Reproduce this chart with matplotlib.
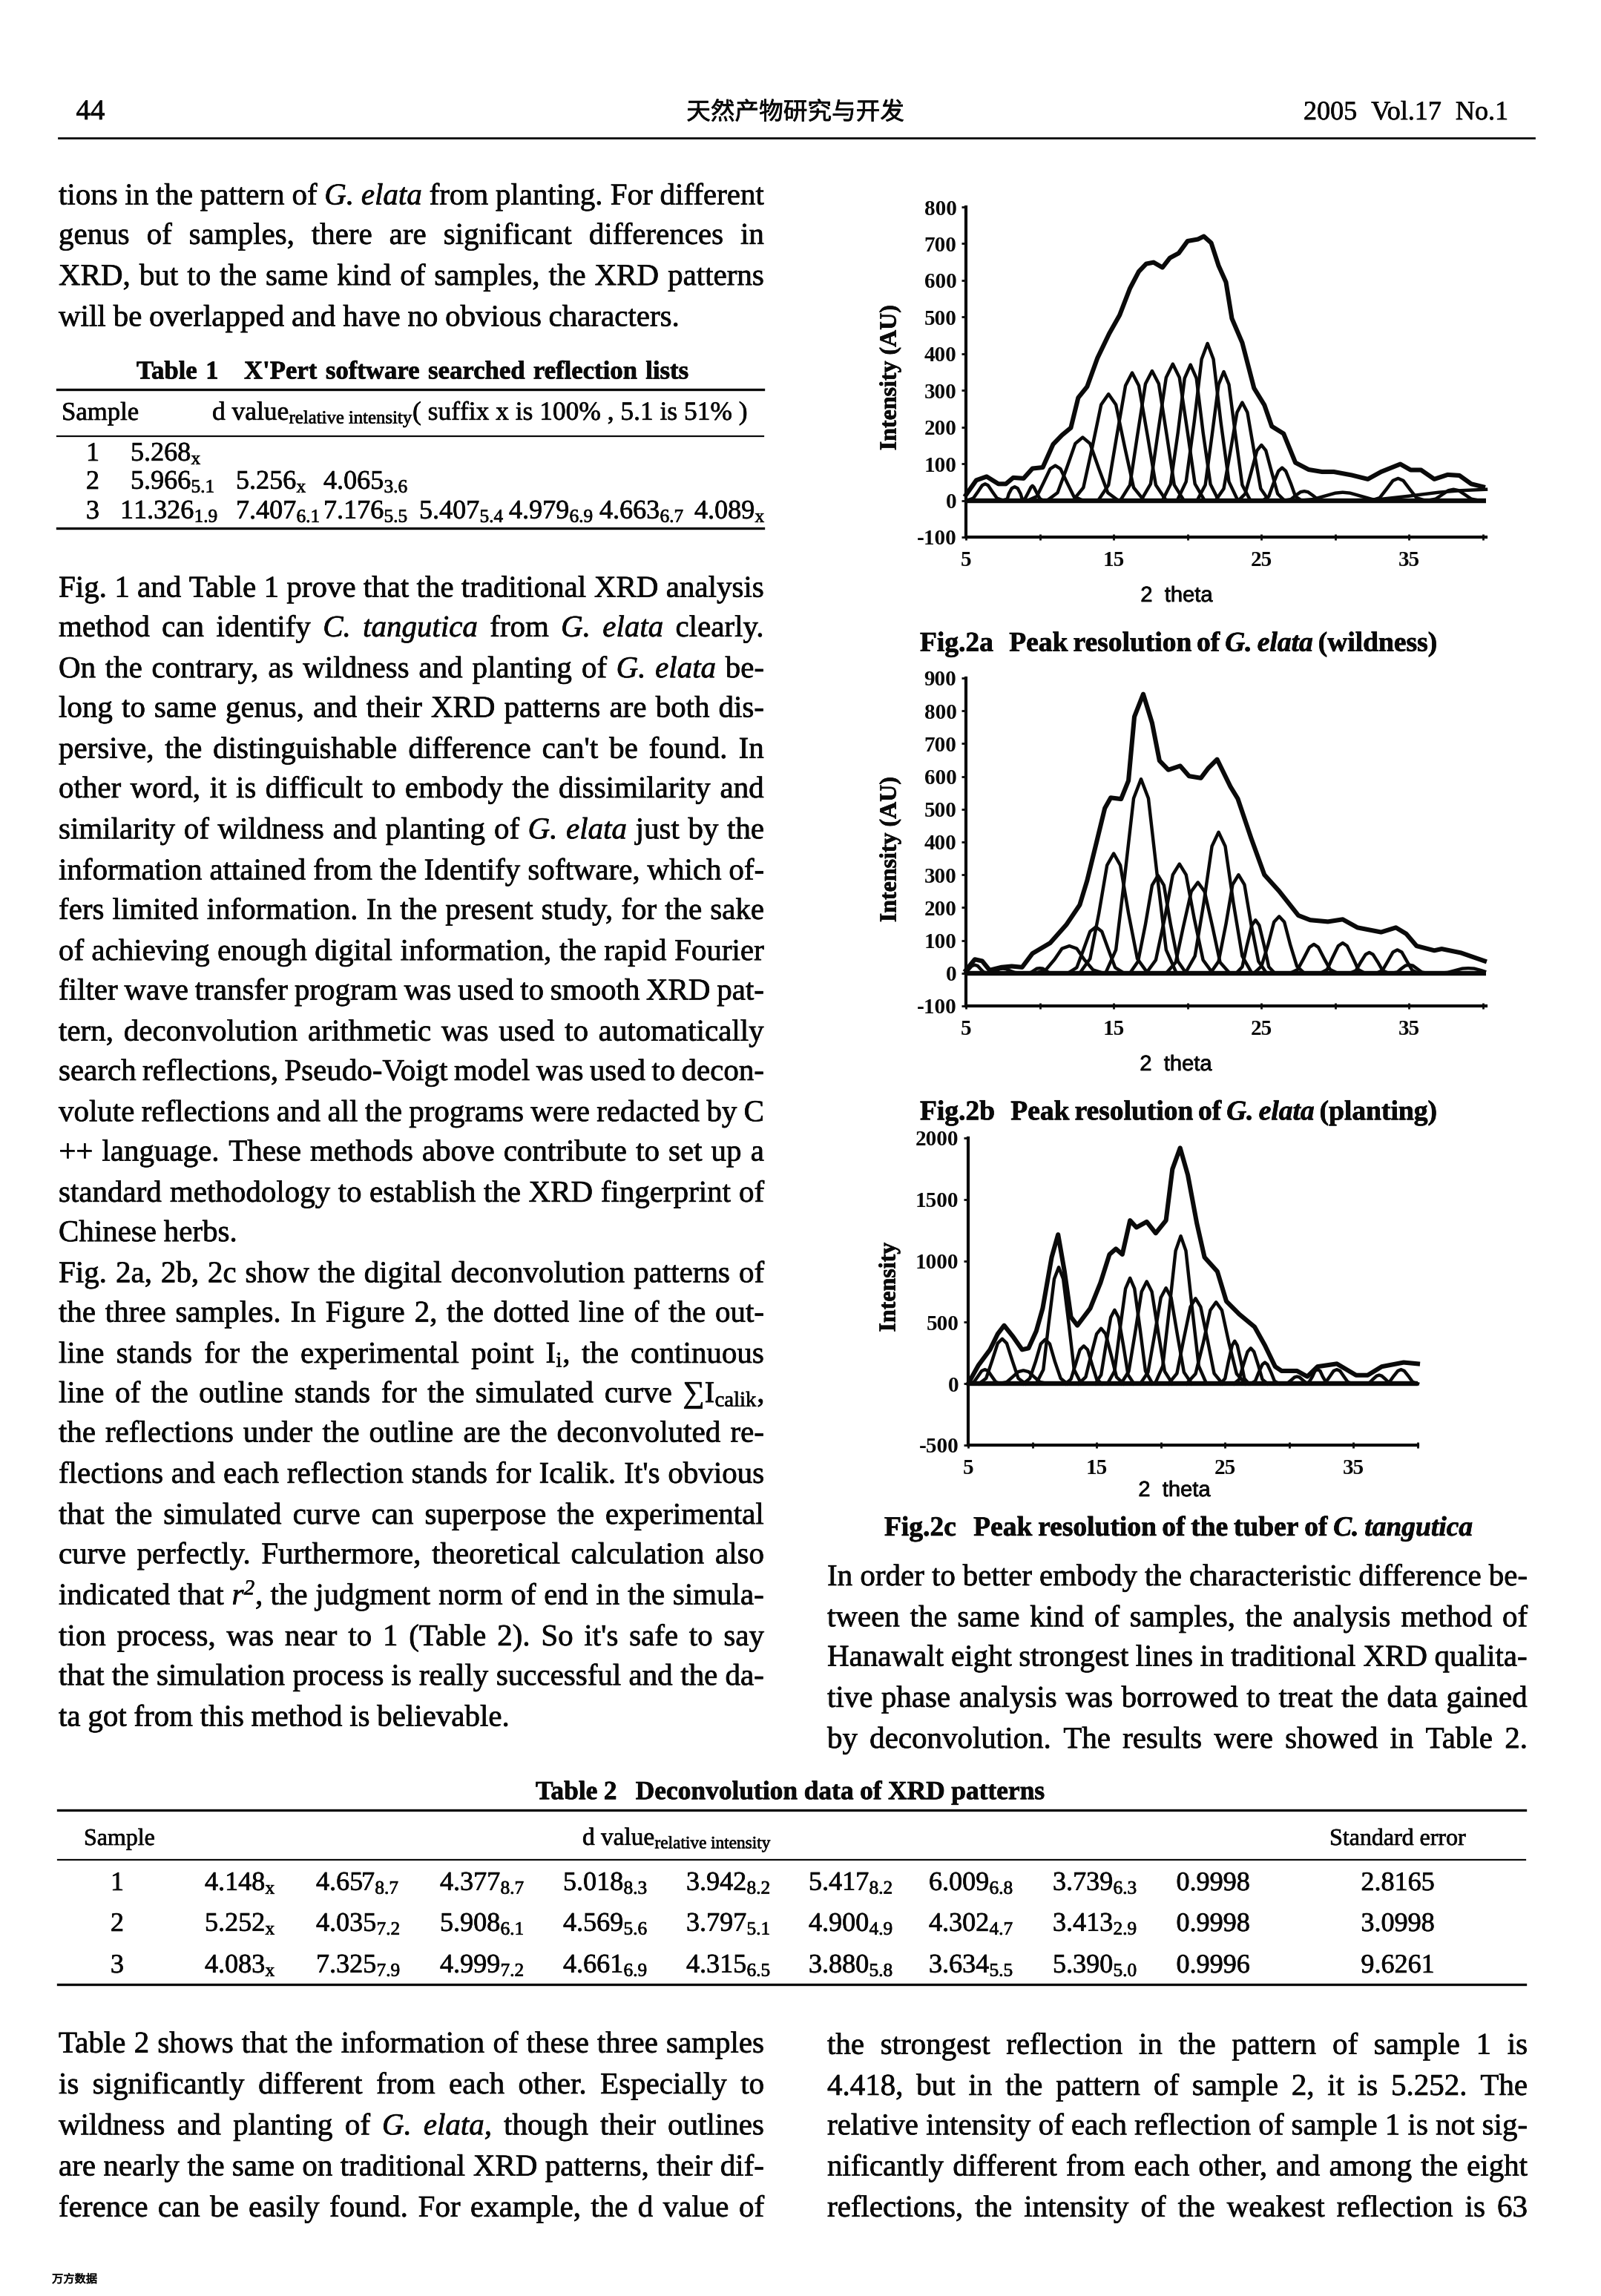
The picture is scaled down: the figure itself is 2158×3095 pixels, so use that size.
import matplotlib
matplotlib.use("Agg")
import matplotlib.pyplot as plt
import matplotlib.patheffects as pe

W, H = 2158, 3095
SERIF = "Liberation Serif"
INK = "#0a0a0a"
plt.rcParams.update({
    "font.family": [SERIF, "DejaVu Sans"],
    "mathtext.fontset": "custom",
    "mathtext.rm": "Liberation Serif",
    "mathtext.it": "Liberation Serif:italic",
    "mathtext.bf": "Liberation Serif:bold",
    "mathtext.default": "regular",
})

# ---------------- chart data ----------------
TICKS_X = [5, 10, 15, 20, 25, 30, 35, 40]
TICK_LABELS_X = ["5", "", "15", "", "25", "", "35", ""]

A_TICKS_Y = [-100, 0, 100, 200, 300, 400, 500, 600, 700, 800]
A_X = [5, 5.7, 6.4, 7.2, 7.7, 8.2, 8.9, 9.5, 10.2, 10.9, 11.5, 12.1, 12.6, 13.2, 13.9, 14.7, 15.4, 16.1, 16.7, 17.2,
       17.7, 18.3, 18.8, 19.4, 20, 20.7, 21.1, 21.6, 22.1, 22.6, 23, 23.7, 24.5, 25.2, 25.7, 26.5, 27.3, 28.2, 29.1,
       29.9, 31.1, 32.2, 33.1, 34.4, 35.1, 35.8, 36.7, 37.6, 38.4, 39.2, 40]
A_Y = [15, 55, 65, 45, 45, 62, 60, 87, 90, 153, 178, 198, 280, 310, 388, 455, 505, 578, 624, 645,
       649, 635, 661, 674, 707, 712, 720, 702, 640, 595, 496, 430, 306, 260, 202, 182, 103, 84, 78,
       78, 69, 58, 78, 99, 83, 83, 58, 70, 68, 45, 37]
A_PEAKS_X = [
    [5.1, 5.5, 5.8, 6.1, 6.3, 6.5, 6.8, 7.1, 7.5],
    [7.5, 7.8, 7.9, 8.1, 8.3, 8.5, 8.7, 8.8, 9.1],
    [8.8, 9.0, 9.2, 9.4, 9.5, 9.6, 9.8, 10, 10.2],
    [9.2, 9.8, 10.25, 10.7, 11.05, 11.4, 11.85, 12.3, 12.9],
    [10.5, 11.2, 11.8, 12.4, 12.9, 13.4, 14, 14.6, 15.3],
    [12.25, 12.95, 13.55, 14.15, 14.65, 15.15, 15.75, 16.35, 17.05],
    [13.95, 14.65, 15.2, 15.8, 16.25, 16.7, 17.3, 17.85, 18.55],
    [15.45, 16.1, 16.6, 17.15, 17.6, 18.05, 18.6, 19.1, 19.75],
    [16.85, 17.5, 18, 18.55, 19, 19.45, 20, 20.5, 21.15],
    [18.3, 18.85, 19.35, 19.8, 20.2, 20.6, 21.05, 21.55, 22.1],
    [19.3, 19.9, 20.45, 20.95, 21.35, 21.75, 22.25, 22.8, 23.4],
    [20.65, 21.2, 21.65, 22.1, 22.45, 22.8, 23.25, 23.7, 24.25],
    [21.9, 22.45, 22.9, 23.35, 23.7, 24.05, 24.5, 24.95, 25.5],
    [23.45, 23.9, 24.3, 24.7, 25, 25.3, 25.7, 26.1, 26.55],
    [25.1, 25.5, 25.8, 26.15, 26.4, 26.65, 27, 27.3, 27.7],
    [26.6, 27, 27.3, 27.65, 27.9, 28.15, 28.5, 28.8, 29.2],
    [27.7, 28.5, 29.2, 30, 30.5, 31, 31.8, 32.5, 33.3],
    [32.45, 33, 33.45, 33.9, 34.25, 34.6, 35.05, 35.5, 36.05],
    [36.3, 36.8, 37.2, 37.65, 38, 38.35, 38.8, 39.2, 39.7],
    [31, 33, 35, 37, 38.5, 40.2],
]
A_PEAKS_Y = [
    [0, 6, 23, 41, 45, 41, 23, 6, 0],
    [0, 4, 18, 33, 37, 33, 18, 4, 0],
    [0, 5, 20, 36, 40, 36, 20, 5, 0],
    [0, 11, 48, 86, 95, 86, 48, 11, 0],
    [0, 21, 86, 155, 172, 155, 86, 21, 0],
    [0, 35, 145, 261, 290, 261, 145, 35, 0],
    [0, 42, 174, 313, 348, 313, 174, 42, 0],
    [0, 42, 176, 318, 353, 318, 176, 42, 0],
    [0, 45, 186, 335, 372, 335, 186, 45, 0],
    [0, 44, 185, 333, 370, 333, 185, 44, 0],
    [0, 51, 214, 385, 428, 385, 214, 51, 0],
    [0, 42, 176, 316, 351, 316, 176, 42, 0],
    [0, 32, 134, 240, 267, 240, 134, 32, 0],
    [0, 18, 76, 136, 151, 136, 76, 18, 0],
    [0, 11, 45, 80, 89, 80, 45, 11, 0],
    [0, 3, 13, 23, 25, 23, 13, 3, 0],
    [0, 3, 11, 20, 22, 20, 11, 3, 0],
    [0, 7, 30, 54, 60, 54, 30, 7, 0],
    [0, 4, 15, 27, 30, 27, 15, 4, 0],
    [0, 3, 12, 22, 27, 30],
]

B_TICKS_Y = [-100, 0, 100, 200, 300, 400, 500, 600, 700, 800, 900]
B_X = [5, 5.6, 6.1, 6.6, 7.4, 8.1, 8.8, 9.5, 10.7, 11.8, 12.7, 13.2, 13.8, 14.4, 14.8, 15.5, 16, 16.4, 17, 17.6,
       18.1, 18.7, 19.5, 20.1, 20.9, 21.4, 22, 22.9, 23.4, 24.3, 25.2, 26.2, 27.5, 28.3, 29.5, 30.5, 31.5, 33.1,
       34.1, 34.8, 35.5, 36.7, 37.2, 38.5, 40.1]
B_Y = [9, 42, 37, 9, 18, 21, 18, 60, 92, 148, 208, 282, 392, 503, 535, 531, 587, 782, 851, 763,
       648, 620, 632, 601, 595, 625, 652, 569, 532, 412, 300, 250, 176, 162, 157, 164, 139, 125,
       139, 120, 83, 69, 74, 62, 37]
B_PEAKS_X = [
    [5, 5.2, 5.4, 5.6, 5.8, 6, 6.2, 6.5],
    [6.3, 6.7, 7, 7.3, 7.5, 7.7, 8, 8.3, 8.7],
    [9.1, 9.4, 9.6, 9.8, 10, 10.2, 10.4, 10.6, 10.9],
    [9.7, 10.4, 11, 11.5, 12, 12.5, 13, 13.6, 14.3],
    [11.9, 12.5, 12.95, 13.4, 13.8, 14.2, 14.65, 15.1, 15.7],
    [12.7, 13.4, 14, 14.55, 15, 15.45, 16, 16.6, 17.3],
    [14.45, 15.15, 15.75, 16.35, 16.85, 17.35, 17.95, 18.55, 19.25],
    [16.1, 16.65, 17.15, 17.6, 18, 18.4, 18.85, 19.35, 19.9],
    [17.2, 17.85, 18.45, 19, 19.45, 19.9, 20.45, 21.05, 21.7],
    [18.55, 19.2, 19.7, 20.25, 20.7, 21.15, 21.7, 22.2, 22.85],
    [19.85, 20.5, 21.1, 21.65, 22.1, 22.55, 23.1, 23.7, 24.35],
    [21.55, 22.1, 22.6, 23.05, 23.45, 23.85, 24.3, 24.8, 25.35],
    [23.3, 23.7, 24, 24.35, 24.6, 24.85, 25.2, 25.5, 25.9],
    [24.5, 25, 25.45, 25.85, 26.2, 26.55, 26.95, 27.4, 27.9],
    [26.95, 27.45, 27.85, 28.25, 28.55, 28.85, 29.25, 29.65, 30.15],
    [29, 29.45, 29.8, 30.2, 30.5, 30.8, 31.2, 31.55, 32],
    [31, 31.4, 31.7, 32.05, 32.3, 32.55, 32.9, 33.2, 33.6],
    [32.8, 33.2, 33.55, 33.9, 34.2, 34.5, 34.85, 35.2, 35.6],
    [33.8, 34.2, 34.45, 34.75, 35, 35.25, 35.55, 35.85, 36.2],
    [37, 37.6, 38.1, 38.6, 39, 39.4, 39.9, 40.1],
]
B_PEAKS_Y = [
    [3, 12, 22, 25, 22, 12, 3, 0],
    [0, 2, 7, 13, 14, 13, 7, 2, 0],
    [0, 2, 8, 14, 15, 14, 8, 2, 0],
    [0, 10, 42, 75, 83, 75, 42, 10, 0],
    [0, 17, 71, 127, 141, 127, 71, 17, 0],
    [0, 44, 183, 329, 365, 329, 183, 44, 0],
    [0, 71, 296, 533, 592, 533, 296, 71, 0],
    [0, 36, 149, 268, 298, 268, 149, 36, 0],
    [0, 40, 167, 300, 333, 300, 167, 40, 0],
    [0, 33, 139, 249, 277, 249, 139, 33, 0],
    [0, 52, 215, 387, 430, 387, 215, 52, 0],
    [0, 36, 150, 270, 300, 270, 150, 36, 0],
    [0, 19, 81, 146, 162, 146, 81, 19, 0],
    [0, 21, 87, 156, 173, 156, 87, 21, 0],
    [0, 11, 44, 79, 88, 79, 44, 11, 0],
    [0, 11, 46, 83, 92, 83, 46, 11, 0],
    [0, 8, 32, 57, 63, 57, 32, 8, 0],
    [0, 9, 36, 64, 71, 64, 36, 9, 0],
    [0, 3, 13, 23, 25, 23, 13, 3, 0],
    [0, 2, 8, 14, 15, 14, 8, 5],
]

C_TICKS_Y = [-500, 0, 500, 1000, 1500, 2000]
C_X = [5, 5.8, 6.7, 7.3, 7.8, 8.5, 9.2, 9.7, 10.3, 10.8, 11.5, 12, 12.5, 13, 13.5, 14.5, 15.3, 16, 16.5, 17, 17.6,
       18.1, 18.9, 19.6, 20.4, 20.9, 21.5, 22.1, 22.8, 23.4, 24.4, 25.1, 26.1, 27.3, 28.1, 28.9, 29.4, 30.6, 31.4,
       32.2, 33.7, 35.2, 36.1, 37.2, 38.9, 40]
C_Y = [0, 150, 277, 405, 474, 382, 277, 289, 428, 613, 1029, 1214, 913, 543, 474, 613, 821, 1052, 1098, 1052, 1329,
       1272, 1318, 1225, 1329, 1746, 1919, 1699, 1306, 1029, 913, 671, 566, 462, 312, 139, 104, 104, 58,
       139, 162, 69, 69, 139, 173, 162]
C_PEAKS_X = [
    [5.1, 5.45, 5.75, 6.05, 6.3, 6.55, 6.85, 7.15, 7.5],
    [5.85, 6.4, 6.85, 7.3, 7.65, 8, 8.45, 8.9, 9.45],
    [7.4, 8, 8.45, 8.9, 9.3, 9.7, 10.15, 10.6, 11.2],
    [9.3, 9.8, 10.25, 10.65, 11, 11.35, 11.75, 12.2, 12.7],
    [10.3, 10.85, 11.25, 11.7, 12.05, 12.4, 12.85, 13.25, 13.8],
    [12.6, 13, 13.35, 13.7, 14, 14.3, 14.65, 15, 15.4],
    [13.6, 14.15, 14.55, 15, 15.35, 15.7, 16.15, 16.55, 17.1],
    [14.9, 15.35, 15.7, 16.1, 16.4, 16.7, 17.1, 17.45, 17.9],
    [15.85, 16.4, 16.8, 17.25, 17.6, 17.95, 18.4, 18.8, 19.35],
    [16.9, 17.5, 18, 18.5, 18.9, 19.3, 19.8, 20.3, 20.9],
    [18.4, 19, 19.5, 20, 20.4, 20.8, 21.3, 21.8, 22.4],
    [19.55, 20.15, 20.65, 21.15, 21.55, 21.95, 22.45, 22.95, 23.55],
    [20.6, 21.25, 21.75, 22.3, 22.7, 23.1, 23.65, 24.15, 24.8],
    [22, 22.7, 23.3, 23.85, 24.3, 24.75, 25.3, 25.9, 26.6],
    [24.65, 25, 25.25, 25.55, 25.75, 25.95, 26.25, 26.5, 26.85],
    [25.7, 26.1, 26.4, 26.75, 27, 27.25, 27.6, 27.9, 28.3],
    [27, 27.35, 27.6, 27.9, 28.1, 28.3, 28.6, 28.85, 29.2],
    [29.6, 29.9, 30.15, 30.4, 30.6, 30.8, 31.05, 31.3, 31.6],
    [31.3, 31.55, 31.8, 32, 32.2, 32.4, 32.6, 32.85, 33.1],
    [32.5, 32.85, 33.15, 33.45, 33.7, 33.95, 34.25, 34.55, 34.9],
    [35.9, 36.25, 36.5, 36.8, 37, 37.2, 37.5, 37.75, 38.1],
    [37.4, 37.8, 38.1, 38.45, 38.7, 38.95, 39.3, 39.6, 40],
]
C_PEAKS_Y = [
    [0, 14, 58, 104, 115, 104, 58, 14, 0],
    [0, 44, 183, 329, 365, 329, 183, 44, 0],
    [0, 13, 54, 97, 108, 97, 54, 13, 0],
    [0, 43, 180, 324, 360, 324, 180, 43, 0],
    [0, 114, 474, 853, 948, 853, 474, 114, 0],
    [0, 37, 154, 276, 307, 276, 154, 37, 0],
    [0, 54, 225, 405, 450, 405, 225, 54, 0],
    [0, 72, 300, 540, 600, 540, 300, 72, 0],
    [0, 103, 430, 774, 860, 774, 430, 103, 0],
    [0, 100, 416, 749, 832, 749, 416, 100, 0],
    [0, 93, 390, 701, 779, 701, 390, 93, 0],
    [0, 144, 601, 1082, 1202, 1082, 601, 144, 0],
    [0, 83, 347, 625, 694, 625, 347, 83, 0],
    [0, 80, 332, 598, 664, 598, 332, 80, 0],
    [0, 42, 174, 312, 347, 312, 174, 42, 0],
    [0, 35, 145, 260, 289, 260, 145, 35, 0],
    [0, 21, 87, 156, 173, 156, 87, 21, 0],
    [0, 7, 29, 52, 58, 52, 29, 7, 0],
    [0, 14, 58, 104, 115, 104, 58, 14, 0],
    [0, 14, 58, 104, 115, 104, 58, 14, 0],
    [0, 8, 35, 63, 70, 63, 35, 8, 0],
    [0, 14, 58, 104, 115, 104, 58, 14, 0],
]

# ---------------- page text ----------------
COL_L_TOP = [
    (133, "tions in the pattern of *G. *elata from planting. For different"),
    (160, "genus of samples, there are significant differences in"),
    (188, "XRD, but to the same kind of samples, the XRD patterns"),
    (216, "will be overlapped and have no obvious characters."),
]
COL_L_MAIN = [
    (401, "Fig. 1 and Table 1 prove that the traditional XRD analysis"),
    (428, "method can identify *C. *tangutica from *G. *elata clearly."),
    (456, "On the contrary, as wildness and planting of *G. *elata be-"),
    (483, "long to same genus, and their XRD patterns are both dis-"),
    (511, "persive, the distinguishable difference can't be found. In"),
    (538, "other word, it is difficult to embody the dissimilarity and"),
    (566, "similarity of wildness and planting of *G. *elata just by the"),
    (594, "information attained from the Identify software, which of-"),
    (621, "fers limited information. In the present study, for the sake"),
    (649, "of achieving enough digital information, the rapid Fourier"),
    (676, "filter wave transfer program was used to smooth XRD pat-"),
    (704, "tern, deconvolution arithmetic was used to automatically"),
    (731, "search reflections, Pseudo-Voigt model was used to decon-"),
    (759, "volute reflections and all the programs were redacted by C"),
    (786, "++ language. These methods above contribute to set up a"),
    (814, "standard methodology to establish the XRD fingerprint of"),
    (841, "Chinese herbs."),
    (869, "Fig. 2a, 2b, 2c show the digital deconvolution patterns of"),
    (896, "the three samples. In Figure 2, the dotted line of the out-"),
    (924, "line stands for the experimental point I$_{i}$, the continuous"),
    (951, "line of the outline stands for the simulated curve $\\sum$I$_{calik}$,"),
    (978, "the reflections under the outline are the deconvoluted re-"),
    (1006, "flections and each reflection stands for Icalik. It's obvious"),
    (1034, "that the simulated curve can superpose the experimental"),
    (1061, "curve perfectly. Furthermore, theoretical calculation also"),
    (1089, "indicated that *r$^{2}$, the judgment norm of end in the simula-"),
    (1117, "tion process, was near to 1 (Table 2). So it's safe to say"),
    (1144, "that the simulation process is really successful and the da-"),
    (1172, "ta got from this method is believable."),
]
COL_R_MID = [
    (1076, "In order to better embody the characteristic difference be-"),
    (1104, "tween the same kind of samples, the analysis method of"),
    (1131, "Hanawalt eight strongest lines in traditional XRD qualita-"),
    (1159, "tive phase analysis was borrowed to treat the data gained"),
    (1187, "by deconvolution. The results were showed in Table 2."),
]
COL_L_LOW = [
    (1395, "Table 2 shows that the information of these three samples"),
    (1423, "is significantly different from each other. Especially to"),
    (1451, "wildness and planting of *G. *elata, though their outlines"),
    (1479, "are nearly the same on traditional XRD patterns, their dif-"),
    (1507, "ference can be easily found. For example, the d value of"),
]
COL_R_LOW = [
    (1396, "the strongest reflection in the pattern of sample 1 is"),
    (1424, "4.418, but in the pattern of sample 2, it is 5.252. The"),
    (1451, "relative intensity of each reflection of sample 1 is not sig-"),
    (1479, "nificantly different from each other, and among the eight"),
    (1507, "reflections, the intensity of the weakest reflection is 63"),
]
UNJUSTIFIED = {"will be overlapped and have no obvious characters.", "Chinese herbs.",
               "ta got from this method is believable."}

TABLE1_ROWS = [
    (612, 125, "1", [(176, "5.268$_{x}$")]),
    (650, 125, "2", [(176, "5.966$_{5.1}$"), (318, "5.256$_{x}$"), (436, "4.065$_{3.6}$")]),
    (690, 125, "3", [(162, "11.326$_{1.9}$"), (318, "7.407$_{6.1}$"), (436, "7.176$_{5.5}$"), (565, "5.407$_{5.4}$"),
                     (686, "4.979$_{6.9}$"), (808, "4.663$_{6.7}$"), (936, "4.089$_{x}$")]),
]
TABLE2_COLS = [276, 426, 593, 759, 925, 1090, 1252, 1419]
TABLE2_SAMPLES = ["1", "2", "3"]
TABLE2_D = [
    ["4.148$_{x}$", "4.657$_{8.7}$", "4.377$_{8.7}$", "5.018$_{8.3}$", "3.942$_{8.2}$", "5.417$_{8.2}$", "6.009$_{6.8}$", "3.739$_{6.3}$"],
    ["5.252$_{x}$", "4.035$_{7.2}$", "5.908$_{6.1}$", "4.569$_{5.6}$", "3.797$_{5.1}$", "4.900$_{4.9}$", "4.302$_{4.7}$", "3.413$_{2.9}$"],
    ["4.083$_{x}$", "7.325$_{7.9}$", "4.999$_{7.2}$", "4.661$_{6.9}$", "4.315$_{6.5}$", "3.880$_{5.8}$", "3.634$_{5.5}$", "5.390$_{5.0}$"],
]
TABLE2_R = ["0.9998", "0.9998", "0.9996"]
TABLE2_ERR = ["2.8165", "3.0998", "9.6261"]
TABLE2_Y = [2539, 2594, 2650]

fig = plt.figure(figsize=(W / 100, H / 100), dpi=100, facecolor="white")
renderer = fig.canvas.get_renderer()
S = 1.974
HEAVY = [pe.Stroke(linewidth=0.5, foreground=INK), pe.Normal()]


def put(x, y, s, size=29.5, ha="left", weight="normal", style="normal", family=None, va="baseline", rotation=0):
    t = fig.text(x / W, 1 - y / H, s, fontsize=size, ha=ha, va=va, color=INK, weight=weight, style=style,
                 family=family or [SERIF, "DejaVu Sans"], rotation=rotation, rotation_mode="anchor")
    t.set_path_effects(HEAVY)
    return t


def line(yc, x0, x1, text, size=29.5, weight="normal", justify=True):
    """Lay one line out word by word; a word starting with * is italic."""
    y = yc * S + 13
    items = []
    for w in text.split(" "):
        italic = w.startswith("*")
        t = put(0, y, w.lstrip("*"), size=size, weight=weight, style="italic" if italic else "normal")
        items.append((t, t.get_window_extent(renderer).width))
    total = sum(i[1] for i in items)
    gap = (x1 - x0 - total) / max(len(items) - 1, 1) if justify else size * 0.33
    x = x0
    for t, w in items:
        t.set_x(x / W)
        x += w + gap


def rule(y, x0, x1, lw):
    fig.add_artist(plt.Line2D([x0 / W, x1 / W], [1 - y / H, 1 - y / H], color=INK, lw=lw, transform=fig.transFigure))


def block(lines, x0, x1):
    for yc, s in lines:
        line(yc, x0, x1, s, justify=s not in UNJUSTIFIED)


def chart(rect, xlim, ylim, yticks, ox, oy, px, py, ylabel, ylabel_xy, xlabel_xy):
    x0, y_top, x1, y_bot = rect
    ax = fig.add_axes([x0 / W, 1 - y_bot / H, (x1 - x0) / W, (y_bot - y_top) / H])
    ax.patch.set_alpha(0)
    ax.set_xlim(*xlim)
    ax.set_ylim(*ylim)
    for s in ("top", "right"):
        ax.spines[s].set_visible(False)
    for s in ("left", "bottom"):
        ax.spines[s].set_linewidth(3.0)
        ax.spines[s].set_color(INK)
    ax.set_xticks(TICKS_X)
    ax.set_xticklabels(TICK_LABELS_X, fontsize=21, weight="bold", color=INK)
    ax.set_yticks(yticks)
    ax.set_yticklabels([str(v) for v in yticks], fontsize=21, weight="bold", color=INK)
    ax.tick_params(axis="x", direction="inout", length=6, width=2, pad=10, color=INK)
    ax.tick_params(axis="y", direction="out", length=4, width=2, pad=5, color=INK)
    ax.plot(xlim, [0, 0], color=INK, lw=4.6, clip_on=False, solid_capstyle="butt")
    for xs, ys in zip(px, py):
        ax.plot(xs, ys, color=INK, lw=3.2, clip_on=False, solid_joinstyle="round")
    ax.plot(ox, oy, color=INK, lw=4.4, clip_on=False, solid_joinstyle="round")
    put(ylabel_xy[0], ylabel_xy[1], ylabel, size=23, weight="bold", ha="center", va="center", rotation=90)
    put(xlabel_xy[0], xlabel_xy[1], "2  theta", size=21, ha="center", va="center", family="Liberation Sans")
    return ax


chart((1302, 279, 2003, 724), (5, 40.2), (-100, 800), A_TICKS_Y, A_X, A_Y, A_PEAKS_X, A_PEAKS_Y,
      "Intensity (AU)", (1200, 509), (1586, 803))
chart((1302, 914, 2003, 1356), (5, 40.2), (-100, 900), B_TICKS_Y, B_X, B_Y, B_PEAKS_X, B_PEAKS_Y,
      "Intensity (AU)", (1200, 1145), (1585, 1435))
chart((1305, 1534, 1911, 1948), (5, 40), (-500, 2000), C_TICKS_Y, C_X, C_Y, C_PEAKS_X, C_PEAKS_Y,
      "Intensity", (1199, 1735), (1583, 2009))

# running head
put(122, 161, "44", size=28, ha="center")
put(1072, 161, "天然产物研究与开发", size=23.5, ha="center", family=["Noto Sans CJK SC", "DejaVu Sans"])
line(75, 1757, 2033, "2005 Vol.17 No.1", size=26)
rule(186, 79, 2068, 2.0)
put(70, 3077, "万方数据", size=11, family=["Noto Sans CJK SC", "DejaVu Sans"])

# body
block(COL_L_TOP, 79, 1030)
block(COL_L_MAIN, 79, 1030)
block(COL_R_MID, 1115, 2059)
block(COL_L_LOW, 79, 1030)
block(COL_R_LOW, 1115, 2059)

# captions
line(438, 1240, 1937, "Fig.2a   Peak resolution of *G. *elata (wildness)", size=27, weight="bold")
line(758, 1240, 1937, "Fig.2b   Peak resolution of *G. *elata (planting)", size=27, weight="bold")
line(1042, 1192, 1985, "Fig.2c   Peak resolution of the tuber of *C. *tangutica", size=27, weight="bold")

# table 1
line(252, 184, 928, "Table 1   X'Pert software searched reflection lists", size=25, weight="bold")
rule(525, 77, 1029, 2.4)
put(83, 566, "Sample", size=25)
put(286, 566, "d value$_{relative\\ intensity}$( suffix x is 100% , 5.1 is 51% )", size=25.5)
rule(588, 77, 1029, 1.6)
for y, x, s, cells in TABLE1_ROWS:
    put(x, y + 9, s, size=26, ha="center")
    for cx, c in cells:
        put(cx, y + 9, c, size=26)
rule(712, 77, 1029, 2.4)

# table 2
line(1222, 722, 1420, "Table 2   Deconvolution data of XRD patterns", size=25.5, weight="bold", justify=False)
rule(2440, 78, 2056, 2.4)
put(113, 2487, "Sample", size=23)
put(785, 2487, "d value$_{relative\\ intensity}$", size=24)
put(1884, 2487, "Standard error", size=23, ha="center")
rule(2507, 78, 2056, 1.6)
for i, yy in enumerate(TABLE2_Y):
    put(158, yy + 9, TABLE2_SAMPLES[i], size=26, ha="center")
    for cx, c in zip(TABLE2_COLS, TABLE2_D[i]):
        put(cx, yy + 9, c, size=26)
    put(1635, yy + 9, TABLE2_R[i], size=26, ha="center")
    put(1884, yy + 9, TABLE2_ERR[i], size=26, ha="center")
rule(2675, 78, 2056, 2.4)

fig.savefig("out.png", dpi=100, facecolor="white")
